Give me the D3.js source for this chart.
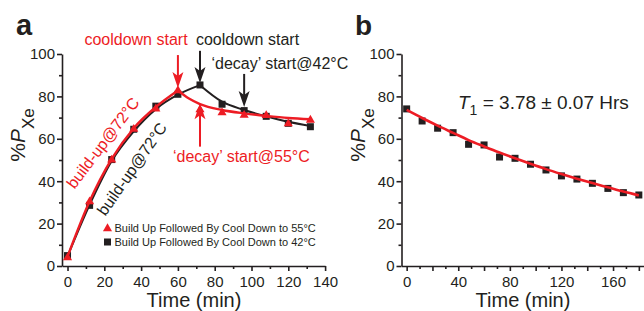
<!DOCTYPE html>
<html>
<head>
<meta charset="utf-8">
<script src="https://cdn.jsdelivr.net/npm/d3@7"></script>
<style>
  body { margin: 0; background: #fff; }
  svg { display: block; font-family: "Liberation Sans", Arial, Helvetica, sans-serif; }
  .axis path, .axis line { stroke: #231f20; stroke-width: 1.6; }
  .axis text { fill: #231f20; font-size: 15px; font-family: "Liberation Sans", Arial, sans-serif; }
</style>
</head>
<body>
<div id="chart"></div>
<script>
const RED = '#ed1c24'
const BLACK = '#231f20'

// panel a: measured points
const timeA = [0, 12, 24, 36, 48, 60, 72, 84, 96, 108, 120, 132]
const red55 = [4.4, 30.8, 50.5, 65, 74.6, 83.2, 74.2, 72.8, 71.6, 71.5, 67.6, 69.3]
const black42 = [4.9, 28.6, 50.2, 64.5, 75.4, 81, 85.4, 76.3, 73.3, 70.6, 67.3, 65.7]

// panel a: fit curves
const redUpT = [0, 12, 24, 36, 48, 60]
const redUpV = [4.4, 30.5, 50.5, 65, 75, 82.8]
const redDownT = [60, 66, 72, 84, 96, 108, 120, 132]
const redDownV = [82.8, 79, 76.4, 73.6, 72, 70.8, 69.8, 69.2]
const blackUpT = [0, 12, 24, 36, 48, 60, 72]
const blackUpV = [4.5, 28.8, 49.5, 63.5, 74, 80.8, 85.3]
const blackDownT = [72, 84, 96, 108, 120, 132]
const blackDownV = [85.3, 77.5, 73.6, 70.6, 68, 66]

// panel b: measured points and fit
const timeB = [0, 12, 24, 36, 48, 60, 72, 84, 96, 108, 120, 132, 144, 156, 168, 180]
const decayB = [74.1, 68.4, 65, 62.9, 57.4, 57.1, 51.4, 50.8, 48, 45.3, 42.5, 41, 39, 36.6, 34.6, 33.5]
const fitB = [73.6, 69.8, 66.2, 62.8, 59.4, 56.4, 53.5, 50.8, 48.2, 45.7, 43.4, 41.2, 39.1, 37.1, 35.1, 33.3]

const yTicks = [0, 20, 40, 60, 80, 100]
const yMinor = [10, 30, 50, 70, 90]
const xTicksA = [0, 20, 40, 60, 80, 100, 120, 140]
const xMinorA = [10, 30, 50, 70, 90, 110, 130]
const xTicksB = [0, 20, 40, 60, 80, 100, 120, 140, 160, 180]
const xLabelsB = [0, 40, 80, 120, 160]
const xMinorB = [10, 30, 50, 70, 90, 110, 130, 150, 170]

const svg = d3.select('#chart').append('svg')
  .attr('width', 644).attr('height', 311)

const xa = d3.scaleLinear().domain([-3, 140]).range([62, 325.1])
const xb = d3.scaleLinear().domain([-4, 184]).range([401.5, 644])
const y = d3.scaleLinear().domain([0, 100]).range([266, 54])

function drawAxes (x, left, ticks, labels, minor) {
  svg.append('g').attr('class', 'axis')
    .attr('transform', 'translate(' + left + ',0)')
    .call(d3.axisLeft(y).tickValues(yTicks).tickSize(5).tickSizeOuter(0).tickPadding(2))
  svg.append('g').attr('class', 'axis')
    .attr('transform', 'translate(' + left + ',0)')
    .call(d3.axisLeft(y).tickValues(yMinor).tickSize(3).tickFormat(''))
    .select('.domain').remove()
  svg.append('g').attr('class', 'axis')
    .attr('transform', 'translate(0,266)')
    .call(d3.axisBottom(x).tickValues(ticks).tickSize(5).tickSizeOuter(0).tickPadding(5)
      .tickFormat(d => labels.indexOf(d) >= 0 ? d : ''))
  svg.append('g').attr('class', 'axis')
    .attr('transform', 'translate(0,266)')
    .call(d3.axisBottom(x).tickValues(minor).tickSize(3).tickFormat(''))
    .select('.domain').remove()
}

drawAxes(xa, 62, xTicksA, xTicksA, xMinorA)
drawAxes(xb, 401.5, xTicksB, xLabelsB, xMinorB)

function curve (x, ts, vs, color, w) {
  const pts = ts.map((t, i) => [t, vs[i]])
  svg.append('path')
    .attr('d', d3.line().x(d => x(d[0])).y(d => y(d[1])).curve(d3.curveMonotoneX)(pts))
    .attr('fill', 'none').attr('stroke', color).attr('stroke-width', w)
}

const tri = d3.symbol().type(d3.symbolTriangle).size(36)

// panel a
curve(xa, blackUpT, blackUpV, BLACK, 2)
curve(xa, blackDownT, blackDownV, BLACK, 2)
svg.selectAll('.sqA').data(timeA).enter().append('rect')
  .attr('x', (d) => xa(d) - 3.5).attr('y', (d, i) => y(black42[i]) - 3.5)
  .attr('width', 7).attr('height', 7).attr('fill', BLACK)
curve(xa, redUpT, redUpV, RED, 2.4)
curve(xa, redDownT, redDownV, RED, 2.4)
svg.selectAll('.triA').data(timeA).enter().append('path')
  .attr('d', tri)
  .attr('transform', (d, i) => 'translate(' + xa(d) + ',' + (y(red55[i]) + 1) + ')')
  .attr('fill', RED)

// panel b
svg.selectAll('.sqB').data(timeB).enter().append('rect')
  .attr('x', (d) => xb(d) - 3.5).attr('y', (d, i) => y(decayB[i]) - 3.5)
  .attr('width', 7).attr('height', 7).attr('fill', BLACK)
curve(xb, timeB, fitB, RED, 2.6)

// arrows
function arrow (t, from, to, color) {
  const x0 = xa(t)
  const y0 = y(from)
  const y1 = y(to)
  const dir = y1 > y0 ? 1 : -1
  svg.append('line').attr('x1', x0).attr('x2', x0)
    .attr('y1', y0).attr('y2', y1 - dir * 8)
    .attr('stroke', color).attr('stroke-width', 2)
  svg.append('path')
    .attr('d', 'M' + x0 + ',' + y1 +
      'L' + (x0 - 5.5) + ',' + (y1 - dir * 16) +
      'L' + x0 + ',' + (y1 - dir * 12) +
      'L' + (x0 + 5.5) + ',' + (y1 - dir * 16) + 'Z')
    .attr('fill', color)
}
arrow(60, 99.5, 84, RED)
arrow(72, 101.5, 86.3, BLACK)
arrow(96, 90.6, 75, BLACK)
arrow(72, 56.3, 76.8, RED)

// texts
function txt (x, yy, s, color, size, anchor) {
  return svg.append('text').attr('x', x).attr('y', yy).text(s)
    .attr('fill', color).attr('font-size', size).attr('text-anchor', anchor || 'start')
}
txt(16, 35, 'a', BLACK, 29).attr('font-weight', 'bold')
txt(355, 35, 'b', BLACK, 28).attr('font-weight', 'bold')
txt(136, 45, 'cooldown start', RED, 16, 'middle')
txt(247.5, 45, 'cooldown start', BLACK, 16, 'middle')
txt(211.5, 68.5, '\u2018decay\u2019 start@42\u00b0C', BLACK, 16)
txt(173, 161.5, '\u2018decay\u2019 start@55\u00b0C', RED, 16)
txt(0, 0, 'build-up@72\u00b0C', RED, 16, 'middle')
  .attr('dominant-baseline', 'central')
  .attr('transform', 'translate(103,143) rotate(-53)')
txt(0, 0, 'build-up@72\u00b0C', BLACK, 16, 'middle')
  .attr('dominant-baseline', 'central')
  .attr('transform', 'translate(132,169) rotate(-55)')

// legend
svg.append('path').attr('d', tri).attr('transform', 'translate(107.5,228.5)').attr('fill', RED)
svg.append('rect').attr('x', 104).attr('y', 238.5).attr('width', 7).attr('height', 7).attr('fill', BLACK)
txt(114.5, 231.8, 'Build Up Followed By Cool Down to 55\u00b0C', BLACK, 11)
txt(114.5, 245.8, 'Build Up Followed By Cool Down to 42\u00b0C', BLACK, 11)

// axis titles
txt(194, 307, 'Time (min)', BLACK, 20, 'middle')
txt(523, 307, 'Time (min)', BLACK, 20, 'middle')

function yTitle (x) {
  const t = svg.append('text').attr('transform', 'translate(' + x + ',135) rotate(-90)')
    .attr('text-anchor', 'middle').attr('fill', BLACK).attr('font-size', 21)
  t.append('tspan').text('%')
  t.append('tspan').text('P').attr('font-style', 'italic')
  t.append('tspan').text('Xe').attr('font-size', 17).attr('dy', 9)
}
yTitle(25)
yTitle(365)

const t1 = txt(458, 108.5, '', BLACK, 19)
t1.append('tspan').text('T').attr('font-style', 'italic')
t1.append('tspan').text('1').attr('font-size', 14).attr('dy', 6)
t1.append('tspan').text(' = 3.78 \u00b1 0.07 Hrs').attr('dy', -6)
</script>
</body>
</html>
